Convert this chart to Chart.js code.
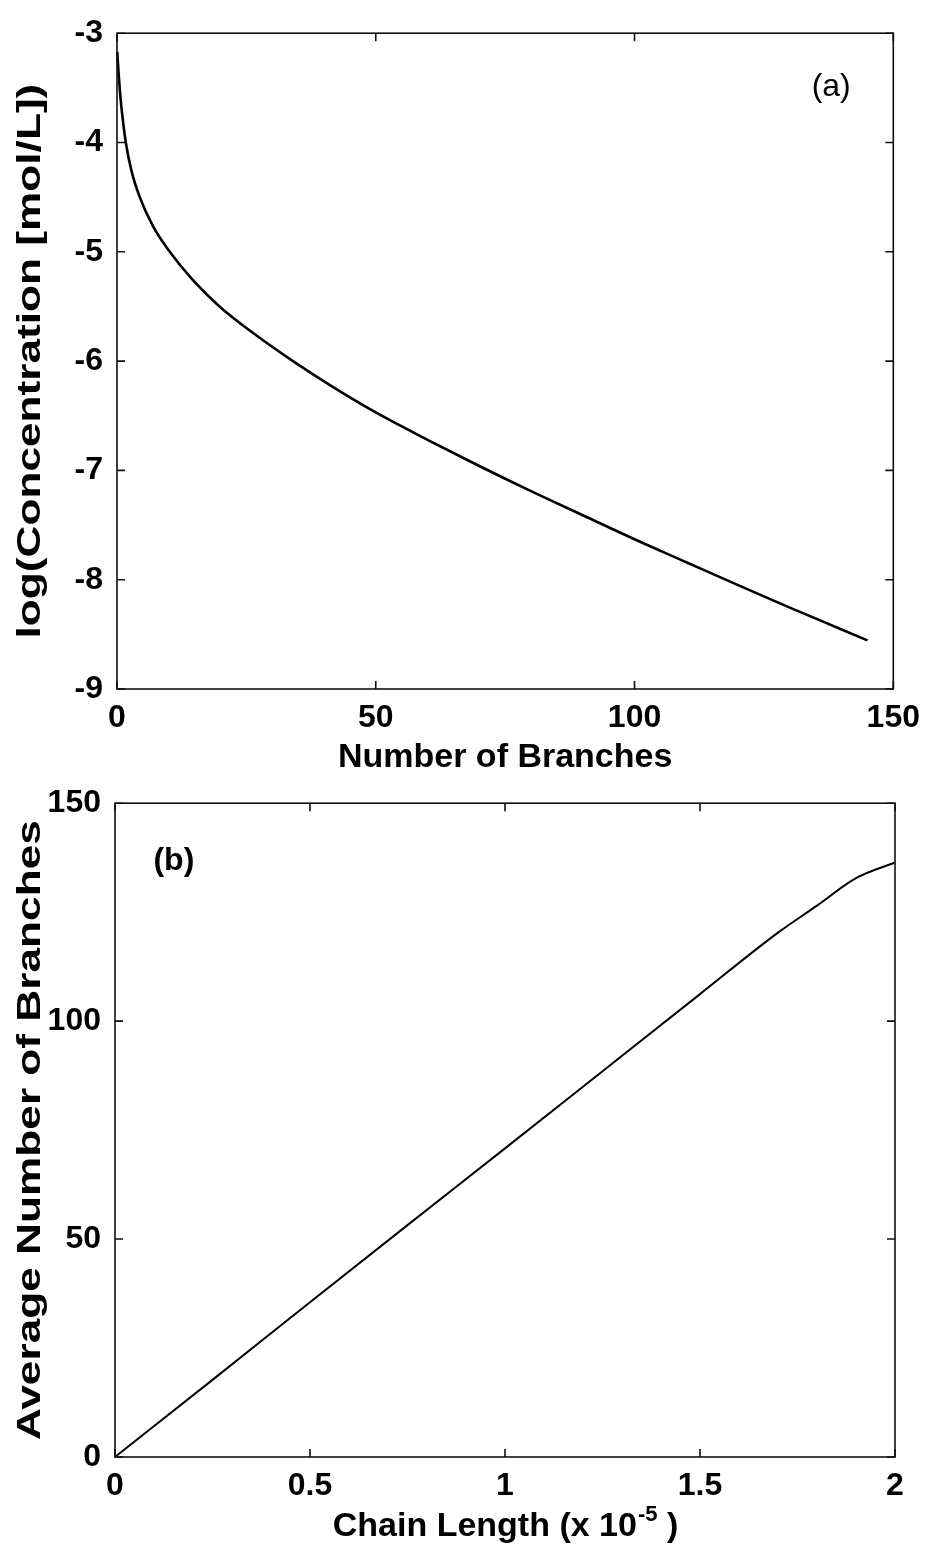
<!DOCTYPE html>
<html><head><meta charset="utf-8">
<script src="https://cdn.jsdelivr.net/npm/chart.js@4/dist/chart.umd.min.js"></script>
<style>
html,body{margin:0;padding:0;background:#fff;width:930px;height:1544px;overflow:hidden}
canvas{position:absolute;left:0}
</style></head><body>
<canvas id="ca" width="930" height="790" style="top:0;width:930px;height:790px"></canvas>
<canvas id="cb" width="930" height="774" style="top:770px;width:930px;height:774px"></canvas>
<script>
// ---------- data ----------
const branchesA = [0.05,0.3,0.6,1.0,1.7,2.8,4.4,7.0,10.2,14.5,19.8,26.5,34,42,50,60,70,80,90,100,110,120,130,140,145];
const logConcA  = [-3.17,-3.36,-3.55,-3.74,-4.0,-4.26,-4.5,-4.77,-5.0,-5.25,-5.5,-5.75,-6.0,-6.245,-6.47,-6.72,-6.96,-7.19,-7.41,-7.63,-7.84,-8.05,-8.255,-8.455,-8.555];
const xTicksA = [0,50,100,150];
const yTicksA = [-9,-8,-7,-6,-5,-4,-3];

const chainLengthB = [0,0.25,0.5,0.75,1,1.25,1.5,1.7,1.8,1.9,2];
const avgBranchesB = [0,17.7,35.5,53.2,70.8,88.5,106.2,120.3,126.5,132.8,136.4];
const xTicksB = [0,0.5,1,1.5,2];
const yTicksB = [0,50,100,150];

const panelLabelA = {text:'(a)', x:138, y:-3.49};
const panelLabelB = {text:'(b)', x:0.151, y:136.6};

const titleXA = 'Number of Branches';
const titleYA = 'log(Concentration [mol/L])';
const titleXB = ['Chain Length (x 10', '-5', ' )'];
const titleYB = 'Average Number of Branches';

// ---------- rendering ----------
const FAM = '"Liberation Sans", Arial, Helvetica, sans-serif';

const framePlugin = {
  id: 'frame',
  afterDatasetsDraw(chart, args, o) {
    const {ctx, chartArea: a, scales: {x, y}} = chart;
    ctx.save();
    ctx.strokeStyle = '#111';
    ctx.lineWidth = 1.6;
    ctx.strokeRect(a.left, a.top, a.right - a.left, a.bottom - a.top);
    const L = 8;
    ctx.beginPath();
    x.ticks.forEach(t => {
      const p = x.getPixelForValue(t.value);
      ctx.moveTo(p, a.bottom); ctx.lineTo(p, a.bottom - L);
      ctx.moveTo(p, a.top); ctx.lineTo(p, a.top + L);
    });
    y.ticks.forEach(t => {
      const p = y.getPixelForValue(t.value);
      ctx.moveTo(a.left, p); ctx.lineTo(a.left + L, p);
      ctx.moveTo(a.right, p); ctx.lineTo(a.right - L, p);
    });
    ctx.stroke();
    // panel label
    ctx.fillStyle = '#000';
    ctx.font = o.labelFont;
    ctx.textAlign = 'center';
    ctx.textBaseline = 'middle';
    ctx.fillText(o.label.text, x.getPixelForValue(o.label.x), y.getPixelForValue(o.label.y));
    // y-axis title (rotated, wide lettering as in the scan)
    ctx.save();
    ctx.translate(o.yTitleX, (a.top + a.bottom) / 2);
    ctx.rotate(-Math.PI / 2);
    ctx.scale(o.yTitleStretch, 1);
    ctx.font = 'bold 34px ' + FAM;
    ctx.fillText(o.yTitle, 0, 0);
    ctx.restore();
    // custom x title with superscript
    if (o.supTitle) {
      const [t1, sup, t2] = o.supTitle;
      const fMain = 'bold 34px ' + FAM, fSup = 'bold 22px ' + FAM;
      ctx.font = fMain; const w1 = ctx.measureText(t1).width, w3 = ctx.measureText(t2).width;
      ctx.font = fSup; const w2 = ctx.measureText(sup).width;
      const total = w1 + w2 + w3;
      let cx = (a.left + a.right) / 2 - total / 2;
      const base = a.bottom + o.supBase;
      ctx.textAlign = 'left'; ctx.textBaseline = 'alphabetic';
      ctx.font = fMain; ctx.fillText(t1, cx, base); cx += w1;
      ctx.font = fSup; ctx.fillText(sup, cx + 1, base - 15); cx += w2 + 1;
      ctx.font = fMain; ctx.fillText(t2, cx, base);
    }
    ctx.restore();
  }
};

function makeChart(id, xs, ys, xt, yt, cfg) {
  const pts = xs.map((v, i) => ({x: v, y: ys[i]}));
  const tickFont = {family: FAM, size: 32, weight: 'bold'};
  return new Chart(document.getElementById(id), {
    type: 'line',
    data: {datasets: [{data: pts, borderColor: '#000', borderWidth: cfg.lw, pointRadius: 0,
      fill: false, cubicInterpolationMode: 'monotone', clip: false}]},
    options: {
      responsive: false, animation: false, devicePixelRatio: 1,
      layout: {padding: {top: 26, right: 35, left: 0, bottom: 0}},
      plugins: {legend: {display: false}, tooltip: {enabled: false},
        frame: {label: cfg.label, labelFont: cfg.labelFont, supTitle: cfg.supTitle, supBase: cfg.supBase,
          yTitle: cfg.yTitle, yTitleX: 31, yTitleStretch: cfg.stretch}},
      scales: {
        x: {type: 'linear', min: xt[0], max: xt[xt.length - 1],
          afterBuildTicks: s => { s.ticks = xt.map(v => ({value: v})); },
          afterFit: s => { s.height = cfg.xH; },
          grid: {display: false, drawTicks: false}, border: {display: false},
          ticks: {font: tickFont, color: '#000', padding: 10, maxRotation: 0, autoSkip: false,
            callback: v => String(v)},
          title: {display: !!cfg.xTitle, text: cfg.xTitle || '', color: '#000',
            font: {family: FAM, size: 34, weight: 'bold'}, padding: {top: 0, bottom: cfg.xTitlePad}}
        },
        y: {type: 'linear', min: yt[0], max: yt[yt.length - 1],
          afterBuildTicks: s => { s.ticks = yt.map(v => ({value: v})); },
          afterFit: s => { s.width = cfg.yW; },
          grid: {display: false, drawTicks: false}, border: {display: false},
          ticks: {font: tickFont, color: '#000', padding: 14, autoSkip: false,
            callback: v => String(v)},
          title: {display: false}
        }
      }
    },
    plugins: [framePlugin]
  });
}

makeChart('ca', branchesA, logConcA, xTicksA, yTicksA, {
  lw: 2.6, xH: 101, yW: 117, xTitle: titleXA, xTitlePad: 12, yTitle: titleYA, stretch: 1.3,
  label: panelLabelA, labelFont: '500 32px ' + FAM
});
makeChart('cb', chainLengthB, avgBranchesB, xTicksB, yTicksB, {
  lw: 2.0, xH: 87, yW: 115, xTitle: null, yTitle: titleYB, stretch: 1.3,
  label: panelLabelB, labelFont: 'bold 32px ' + FAM,
  supTitle: titleXB, supBase: 79
});
</script>
</body></html>
